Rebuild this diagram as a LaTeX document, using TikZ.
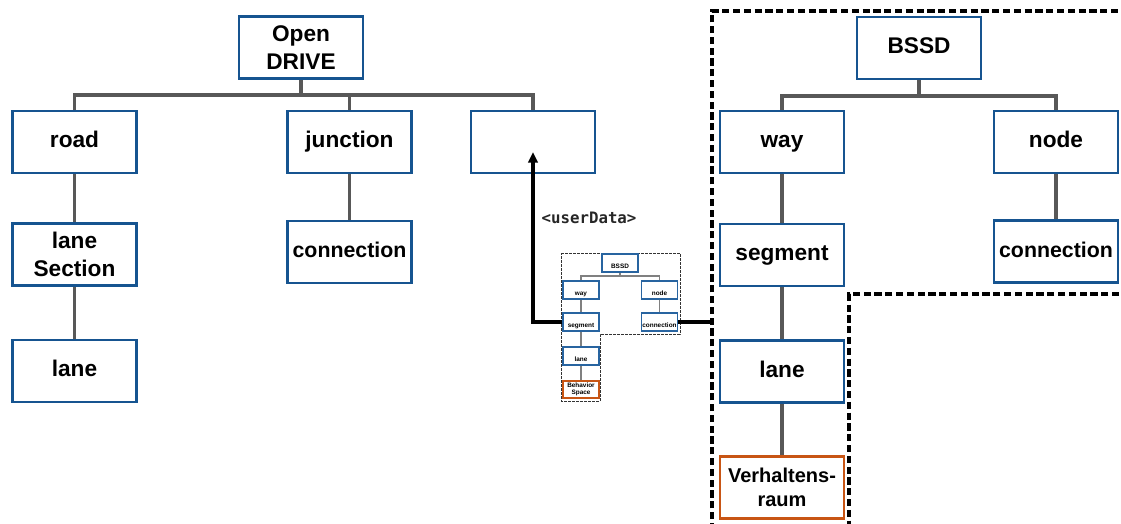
\documentclass[tikz,border=0pt]{standalone}
\usepackage{fontspec}
\setmainfont{Liberation Sans}
\newfontfamily\codefont{DejaVu Sans Mono}
\usetikzlibrary{arrows.meta}
\definecolor{boxblue}{RGB}{22,84,144}
\definecolor{smallblue}{RGB}{40,100,160}
\definecolor{behorange}{RGB}{200,85,20}
\definecolor{treegray}{RGB}{88,88,88}
\tikzset{
  elem/.style={draw=boxblue, line width=2.2pt, fill=white, inner sep=0pt,
    minimum width=93pt, minimum height=46.5pt, align=center,
    font=\fontsize{17}{21}\selectfont\bfseries},
  oneline/.style={elem, text height=1.0em, text depth=0.16em},
  narrow/.style={oneline, font=\fontsize{16}{20}\selectfont\bfseries},
  behav/.style={elem, draw=behorange, font=\fontsize{15}{18}\selectfont\bfseries},
  tree/.style={draw=treegray, line width=2.3pt},
  link/.style={draw=black, line width=2.3pt},
  region/.style={draw=black, line width=2.3pt, dash pattern=on 5.4pt off 2.7pt},
  mini/.style={draw=smallblue, line width=1pt, fill=white, inner sep=0pt,
    minimum width=27pt, minimum height=13.5pt, align=center,
    font=\fontsize{4.8}{5.4}\selectfont\bfseries},
  minione/.style={mini, text height=1.0em, text depth=0.16em},
  minibehav/.style={mini, draw=behorange, minimum height=12.8pt},
  minitree/.style={draw=gray, line width=1pt},
  miniregion/.style={draw=black!80, line width=0.75pt, dash pattern=on 2pt off 1pt}
}
\begin{document}
\begin{tikzpicture}[x=0.75pt, y=-0.75pt]
\useasboundingbox (0,0) rectangle (1121,524);

% ---------------- OpenDRIVE tree ----------------
\node[elem] (odr) at (301,47.5) {Open\\DRIVE};
\node[oneline] (road) at (74.5,142) {road};
\node[oneline] (junction) at (349.5,142) {junction};
\node[oneline] (userdata) at (533,142) {};
\node[elem] (lanesec) at (74.5,254.5) {lane\\Section};
\node[oneline] (laneL) at (74.5,371) {lane};
\node[narrow] (connL) at (349.5,252) {connection};

\coordinate (odrbus) at (301,95);
\draw[tree] (odr.south) -- (odrbus);
\draw[tree] (road.north) |- (odrbus) -| (userdata.north);
\draw[tree] (junction.north) -- (junction.north |- odrbus);
\draw[tree] (road.south) -- (lanesec.north);
\draw[tree] (lanesec.south) -- (laneL.north);
\draw[tree] (junction.south) -- (connL.north);

% ---------------- BSSD tree ----------------
\node[oneline] (bssd) at (919,48) {BSSD};
\node[oneline] (way) at (782,142) {way};
\node[oneline] (node) at (1056,142) {node};
\node[oneline] (segment) at (782,255) {segment};
\node[narrow] (connR) at (1056,251.5) {connection};
\node[oneline] (laneR) at (782,371.5) {lane};
\node[behav] (verh) at (782,487.5) {Verhaltens-\\raum};

\coordinate (bssdbus) at (919,96);
\draw[tree] (bssd.south) -- (bssdbus);
\draw[tree] (way.north) |- (bssdbus) -| (node.north);
\draw[tree] (way.south) -- (segment.north);
\draw[tree] (segment.south) -- (laneR.north);
\draw[tree] (laneR.south) -- (verh.north);
\draw[tree] (node.south) -- (connR.north);

% dashed region around the BSSD elements
\draw[region] (712,530) -- (712,11) -- (1130,11);
\draw[region] (1130,294) -- (849,294) -- (849,530);

% ---------------- miniature BSSD tree ----------------
\draw[miniregion] (561,253) -- (680,253) -- (680,334) -- (600,334)
  -- (600,401) -- (561,401) -- cycle;
\node[minione] (bssdS) at (620,263) {BSSD};
\node[minione] (wayS) at (581,290) {way};
\node[minione] (nodeS) at (659.5,290) {node};
\node[minione] (segS) at (581,322) {segment};
\node[minione] (connS) at (659.5,322) {connection};
\node[minione] (laneS) at (581,356) {lane};
\node[minibehav] (behS) at (581,389.5) {Behavior\\Space};

\coordinate (minibus) at (620,276);
\draw[minitree] (bssdS.south) -- (minibus);
\draw[minitree] (wayS.north) |- (minibus) -| (nodeS.north);
\draw[minitree] (wayS.south) -- (segS.north);
\draw[minitree] (segS.south) -- (laneS.north);
\draw[minitree] (laneS.south) -- (behS.north);
\draw[minitree] (nodeS.south) -- (connS.north);

% ---------------- userData link ----------------
\coordinate (tip) at (533,152);
\coordinate (regionedge) at (712,322);
\draw[link, -{Triangle[length=8pt, width=7pt]}] (segS.west) -| (tip);
\draw[link] (connS.east) -- (regionedge);
\node[font=\codefont\fontsize{11.8}{14}\selectfont\bfseries, text=black!85, anchor=west]
  (udlabel) at (537,218) {<userData>};
\end{tikzpicture}
\end{document}
